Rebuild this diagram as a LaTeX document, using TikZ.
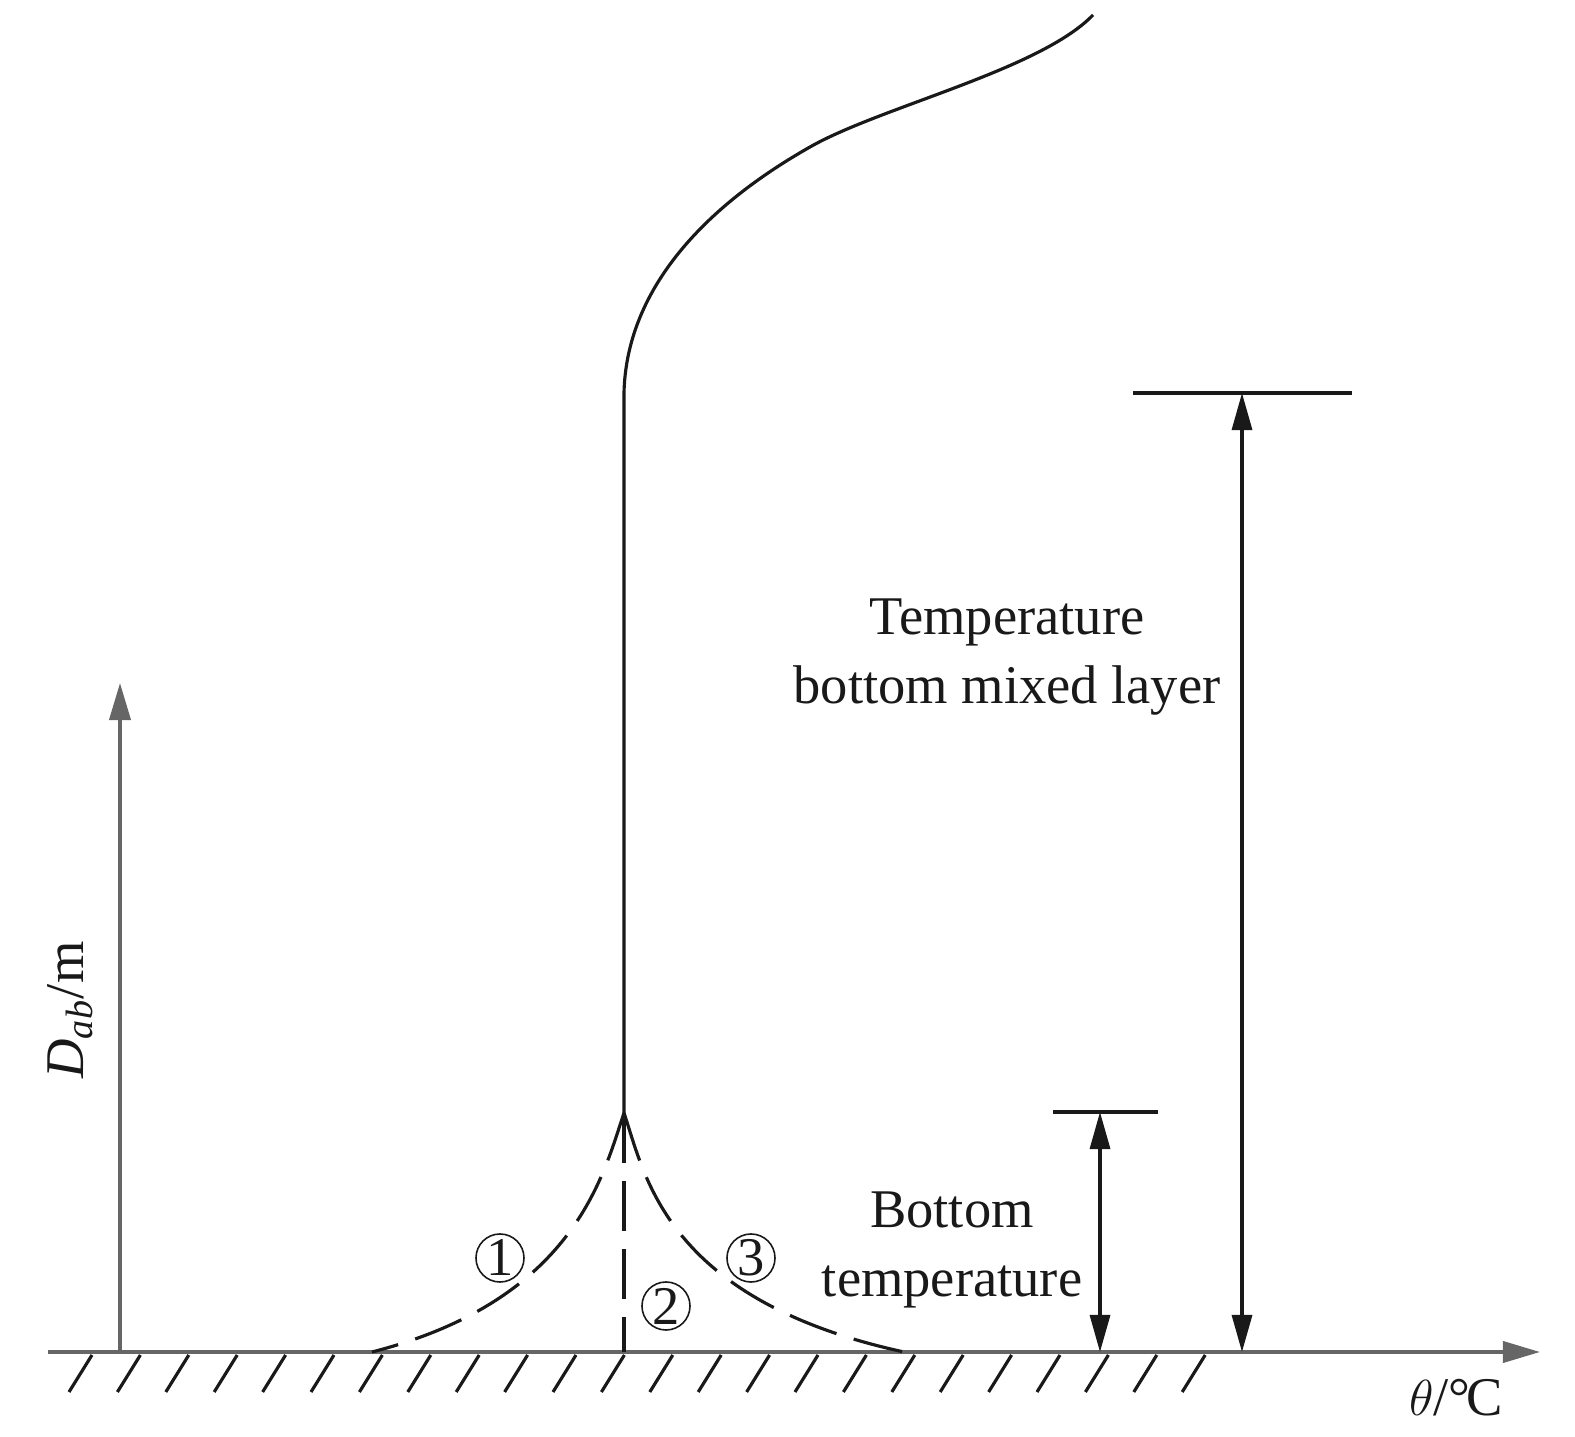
\documentclass[tikz,border=0pt]{standalone}
\usepackage{fontspec}
\setmainfont{Liberation Serif}
\usetikzlibrary{arrows.meta}

\begin{document}
\begin{tikzpicture}[x=0.01cm,y=-0.01cm]
	\tikzstyle{every node}=[font=\fontsize{15.5}{19.5}\selectfont,text=black!90]
	\tikzstyle{axis}=[draw=black!60,line width=1.1pt,-{Triangle[length=0.37cm,width=0.21cm]}]
	\tikzstyle{dim}=[draw=black!90,line width=0.9pt,{Triangle[length=0.37cm,width=0.2cm]}-{Triangle[length=0.37cm,width=0.2cm]}]
	\tikzstyle{profile}=[draw=black!90,line width=0.9pt]
	\tikzstyle{case}=[profile,dash pattern=on 0.5cm off 0.18cm]
	\tikzstyle{num}=[circle,draw=black!90,line width=0.45pt,inner sep=0pt,minimum size=0.48cm]
	\useasboundingbox (0,0) rectangle (1575,1437);

	\coordinate (gl) at (48,1352);
	\coordinate (gr) at (1540,1352);
	\coordinate (yb) at (120,1352);
	\coordinate (yt) at (120,683);
	\coordinate (peak) at (624,1113);
	\coordinate (knee) at (624,393);
	\coordinate (top) at (1093,15);
	\coordinate (c1) at (372,1352);
	\coordinate (c2) at (624,1352);
	\coordinate (c3) at (904,1352);
	\coordinate (bt) at (1100,1112);
	\coordinate (bb) at (1100,1352);
	\coordinate (mt) at (1242,393);
	\coordinate (mb) at (1242,1352);
	\coordinate (bt1) at (1053,1112);
	\coordinate (bt2) at (1158,1112);
	\coordinate (mt1) at (1133,393);
	\coordinate (mt2) at (1352,393);

	\foreach \i in {0,...,23}
		\draw[profile] ({69+48.4*\i},1392) -- ({92+48.4*\i},1355);

	\draw[axis] (gl) -- (gr);
	\draw[axis] (yb) -- (yt);

	\draw[profile] (peak) -- (knee)
		.. controls (626,300) and (690,215) .. (810,147)
		.. controls (880,107) and (1040,70) .. (top);

	\draw[case] (peak) .. controls (603,1175) and (575,1300) .. (c1);
	\draw[case] (peak) -- (c2);
	\draw[case] (peak) .. controls (645,1175) and (665,1300) .. (c3);

	\draw[profile] (bt1) -- (bt2);
	\draw[profile] (mt1) -- (mt2);
	\draw[dim] (bt) -- (bb);
	\draw[dim] (mt) -- (mb);

	\node[num] (n1) at (500,1258) {1};
	\node[num] (n2) at (666,1306) {2};
	\node[num] (n3) at (751,1258) {3};

	\node[align=center] (mix) at (1007,657) {Temperature\\bottom mixed layer};
	\node[align=center] (bot) at (952,1250) {Bottom\\temperature};
	\node[rotate=90] (dlab) at (70,1010) {\textit{D}\textsubscript{\textit{ab}}/m};
	\node (tlab) at (1456,1398) {$\theta$/°\kern-0.08em C};
\end{tikzpicture}
\end{document}
